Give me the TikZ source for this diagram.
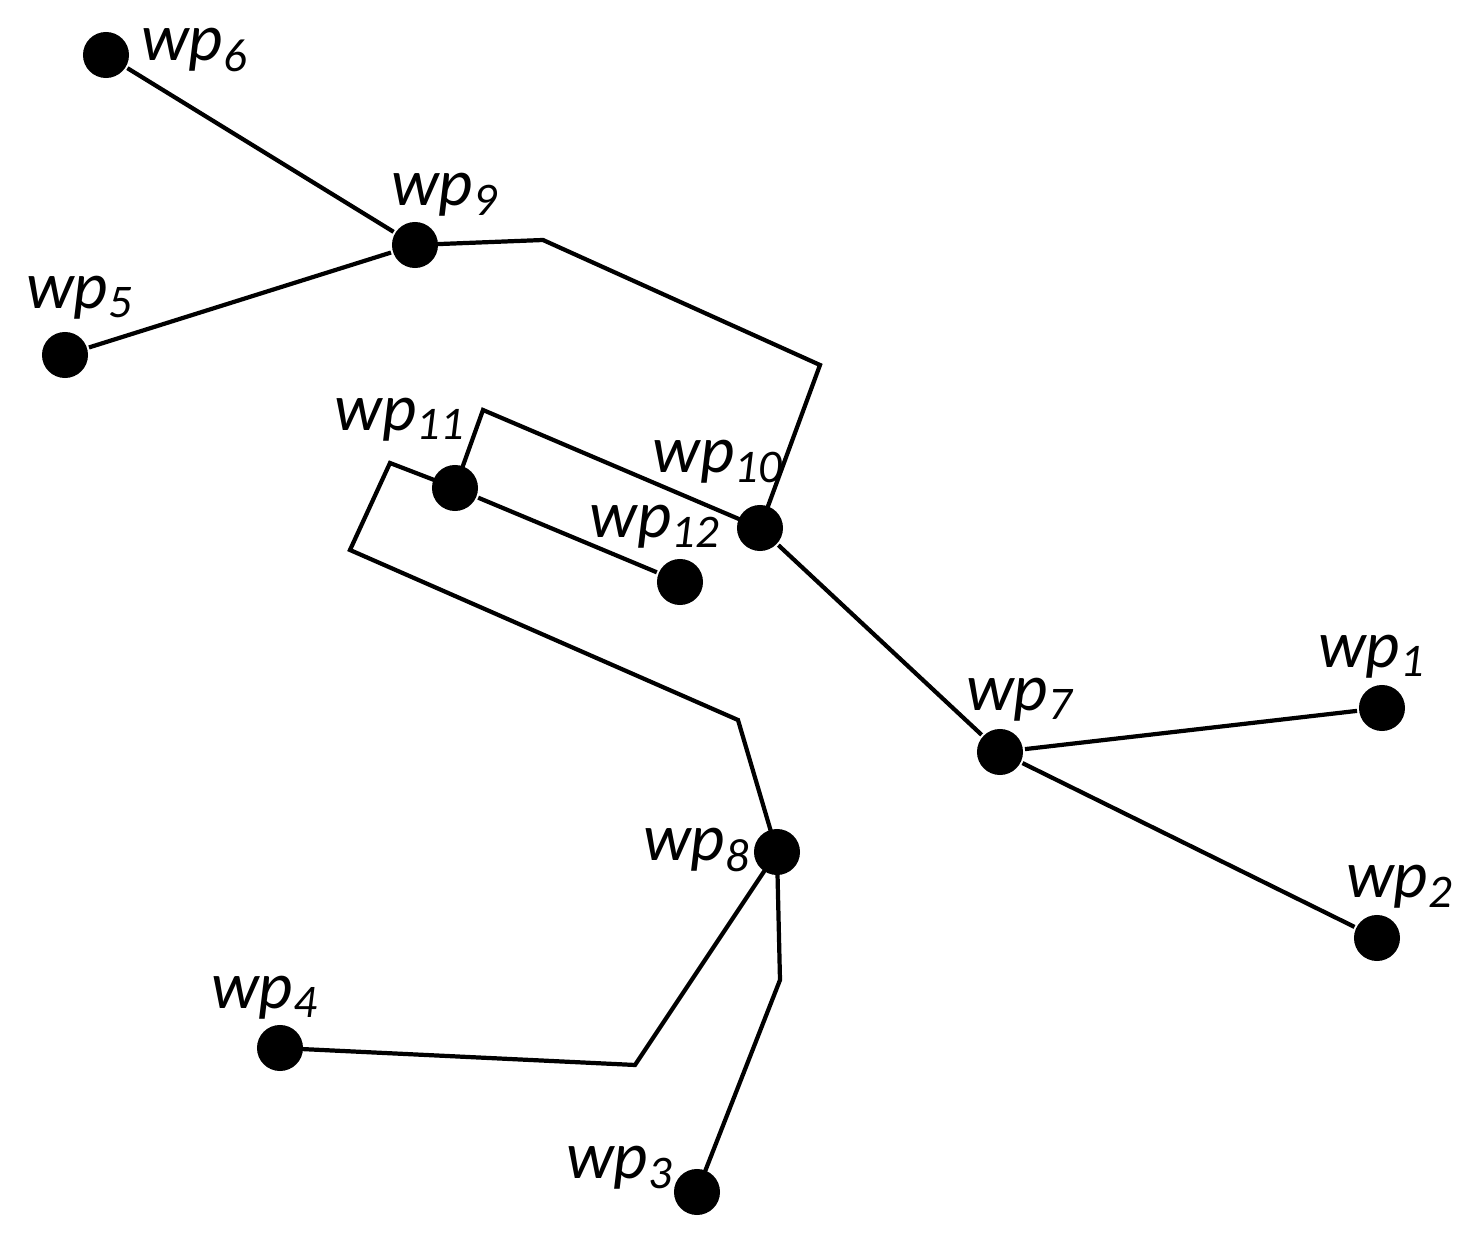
\documentclass[tikz,border=0pt]{standalone}
\usepackage{fontspec}
\setmainfont{Carlito}
\usetikzlibrary{calc}

\begin{document}
\begin{tikzpicture}[x=0.01cm, y=-0.01cm, line width=1.2pt,
                wp/.style={circle, fill=black, inner sep=0pt, minimum size=0.46cm},
                lab/.style={font=\fontsize{19}{21}\selectfont\itshape, inner sep=0pt}]
		\useasboundingbox (0,0) rectangle (1465,1243);
		% waypoints
		\node [wp] (w1) at (1382,708) {};
		\node [wp] (w2) at (1377,938) {};
		\node [wp] (w3) at (697,1192) {};
		\node [wp] (w4) at (280,1048) {};
		\node [wp] (w5) at (65,355) {};
		\node [wp] (w6) at (106,55) {};
		\node [wp] (w7) at (1000,752) {};
		\node [wp] (w8) at (777,852) {};
		\node [wp] (w9) at (415,245) {};
		\node [wp] (w10) at (760,528) {};
		\node [wp] (w11) at (455,488) {};
		\node [wp] (w12) at (680,582) {};

		% labels
		\node [lab] (l1) at (1372,657) {wp$_{\mathit 1}$};
		\node [lab] (l2) at (1400,887) {wp$_{\mathit 2}$};
		\node [lab] (l3) at (620,1168) {wp$_{\mathit 3}$};
		\node [lab] (l4) at (265,998) {wp$_{\mathit 4}$};
		\node [lab] (l5) at (80,298) {wp$_{\mathit 5}$};
		\node [lab] (l6) at (195,50) {wp$_{\mathit 6}$};
		\node [lab] (l7) at (1020,700) {wp$_{\mathit 7}$};
		\node [lab] (l8) at (697,850) {wp$_{\mathit 8}$};
		\node [lab] (l9) at (445,195) {wp$_{\mathit 9}$};
		\node [lab] (l10) at (718,462) {wp$_{\mathit{10}}$};
		\node [lab] (l11) at (400,420) {wp$_{\mathit{11}}$};
		\node [lab] (l12) at (655,527) {wp$_{\mathit{12}}$};

		% bends
		\coordinate (b1) at (543,240);
		\coordinate (b2) at (820,365);
		\coordinate (b3) at (483,410);
		\coordinate (b4) at (390,463);
		\coordinate (b5) at (350,550);
		\coordinate (b6) at (738,720);
		\coordinate (b7) at (635,1065);
		\coordinate (b8) at (780,980);

		\draw (w6) -- (w9);
		\draw (w5) -- (w9);
		\draw (w9.center) -- (b1) -- (b2) -- (w10.center);
		\draw (w11.center) -- (b3) -- (w10.center);
		\draw (w11) -- (w12);
		\draw (w11.center) -- (b4) -- (b5) -- (b6) -- (w8.center);
		\draw (w10) -- (w7);
		\draw (w7) -- (w1);
		\draw (w7) -- (w2);
		\draw (w8.center) -- (b7) -- (w4.center);
		\draw (w8.center) -- (b8) -- (w3.center);
\end{tikzpicture}
\end{document}
